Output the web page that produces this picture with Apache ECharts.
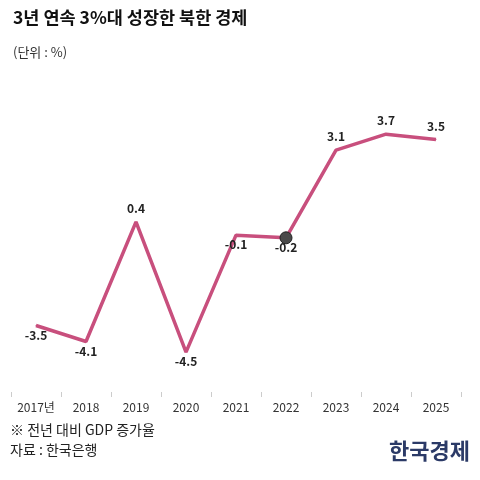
<!DOCTYPE html>
<html>
<head>
<meta charset="utf-8">
<script src="https://cdn.jsdelivr.net/npm/echarts@6/dist/echarts.min.js"></script>
<style>
    html, body { margin: 0; padding: 0; background: #fff; }
    #chart { width: 480px; height: 480px; }
</style>
</head>
<body>
<div id="chart"></div>
<script>
// 연도 / 성장률 데이터
const years = ['2017년', '2018', '2019', '2020', '2021', '2022', '2023', '2024', '2025'];
const growth = [-3.5, -4.1, 0.4, -4.5, -0.1, -0.2, 3.1, 3.7, 3.5];
const labelSide = ['bottom', 'bottom', 'top', 'bottom', 'bottom', 'bottom', 'top', 'top', 'top'];
const markedYear = '2022';

const font = '"Noto Sans CJK KR", "Noto Sans", sans-serif';
const lineColor = '#c84f7d';

const chart = echarts.init(document.getElementById('chart'));

function labelDistance(i) {
    if (years[i] === markedYear) return -3;
    return labelSide[i] === 'bottom' ? 3 : 7;
}

chart.setOption({
    animation: false,
    backgroundColor: '#fff',
    textStyle: { fontFamily: font },
    title: {
        text: '3년 연속 3%대 성장한 북한 경제',
        subtext: '(단위 : %)',
        left: 8,
        top: 4,
        itemGap: 19,
        textStyle: { fontFamily: font, fontSize: 17.5, fontWeight: 'bold', color: '#111' },
        subtextStyle: { fontFamily: font, fontSize: 13, color: '#333' }
    },
    grid: {
        left: 11,
        right: 19,
        top: 73,
        bottom: 88
    },
    xAxis: {
        type: 'category',
        data: years,
        boundaryGap: true,
        axisLine: { show: false, onZero: false },
        axisTick: {
            show: true,
            length: 5,
            lineStyle: { color: '#ccc' }
        },
        axisLabel: {
            margin: 9,
            fontSize: 12,
            color: '#333',
            fontFamily: font
        }
    },
    yAxis: {
        type: 'value',
        min: -6,
        max: 6,
        show: false,
        splitLine: { show: false }
    },
    series: [{
        type: 'line',
        symbol: 'circle',
        data: growth.map((v, i) => ({
            value: v,
            symbolSize: years[i] === markedYear ? 12 : 1,
            itemStyle: years[i] === markedYear
                ? { color: '#4a4a4a', borderColor: '#222', borderWidth: 1 }
                : { color: lineColor },
            label: {
                position: labelSide[i],
                distance: labelDistance(i)
            }
        })),
        showSymbol: true,
        lineStyle: { color: lineColor, width: 3.5 },
        itemStyle: { color: lineColor },
        label: {
            show: true,
            fontSize: 12,
            fontWeight: 'bold',
            color: '#222',
            fontFamily: font,
            formatter: p => p.value.toFixed(1)
        }
    }],
    graphic: [
        {
            type: 'text',
            left: 10,
            top: 423,
            style: { text: '※ 전년 대비 GDP 증가율', font: '14px ' + font, fill: '#222' }
        },
        {
            type: 'text',
            left: 10,
            top: 443,
            style: { text: '자료 : 한국은행', font: '14px ' + font, fill: '#222' }
        },
        {
            type: 'text',
            right: 10,
            top: 440,
            style: { text: '한국경제', font: 'bold 22px ' + font, fill: '#2b3a67' }
        }
    ]
});
</script>
</body>
</html>
